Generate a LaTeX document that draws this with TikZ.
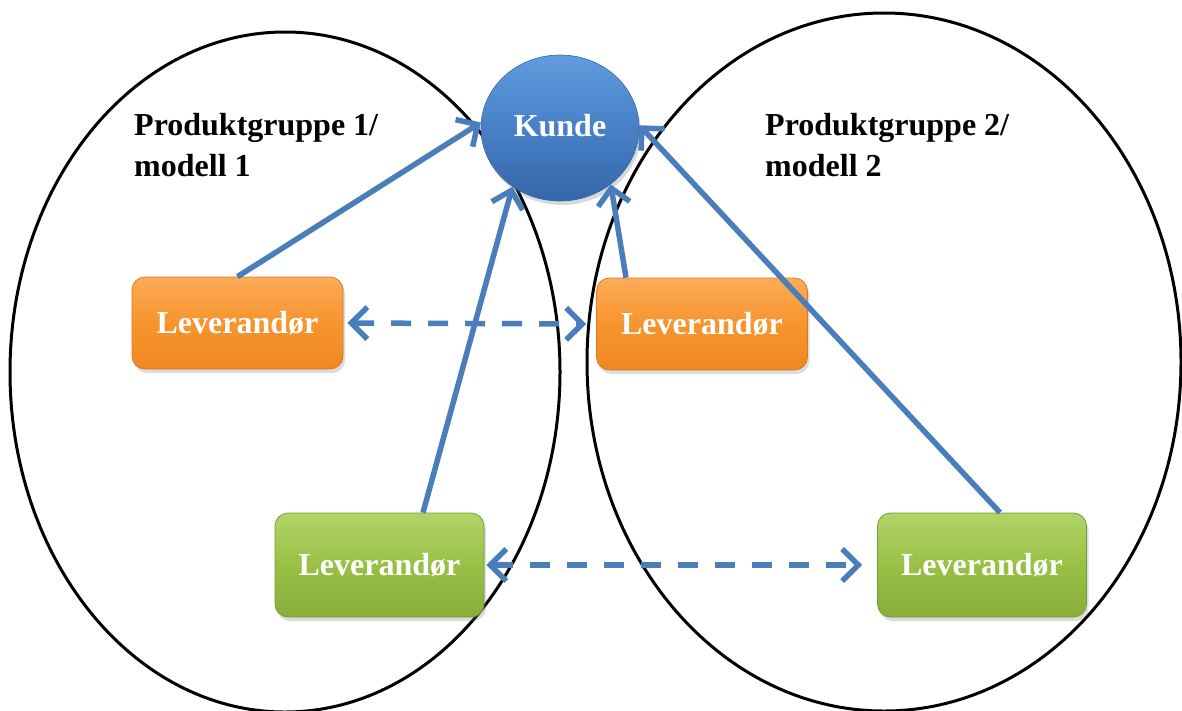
\documentclass[tikz,border=0pt]{standalone}
\usepackage{fontspec}
\setmainfont{Liberation Serif}
\usetikzlibrary{arrows.meta,shadows,calc,shapes.geometric}

\definecolor{linkblue}{RGB}{74,126,187}
\definecolor{orangetop}{RGB}{252,172,88}
\definecolor{orangemid}{RGB}{247,148,46}
\definecolor{orangebot}{RGB}{240,136,34}
\definecolor{orangeedge}{RGB}{214,120,40}
\definecolor{greentop}{RGB}{178,212,104}
\definecolor{greenmid}{RGB}{152,192,70}
\definecolor{greenbot}{RGB}{136,174,58}
\definecolor{greenedge}{RGB}{120,155,60}
\definecolor{bluetop}{RGB}{96,156,222}
\definecolor{bluemid}{RGB}{72,128,198}
\definecolor{bluebot}{RGB}{52,102,170}

\tikzset{
  group/.style={draw=black, line width=3pt},
  grouplabel/.style={anchor=north west, inner sep=0pt, align=left,
    font=\fontsize{32}{41}\selectfont\bfseries},
  supplier/.style={rounded corners=13pt, minimum width=211pt, minimum height=92pt,
    inner sep=0pt, text=white, font=\fontsize{32}{38}\selectfont\bfseries,
    drop shadow={opacity=0.28, shadow xshift=2pt, shadow yshift=-4pt}},
  orangebox/.style={supplier, draw=orangeedge, line width=0.8pt,
    top color=orangetop, bottom color=orangebot, middle color=orangemid},
  greenbox/.style={supplier, minimum width=209pt, minimum height=104pt,
    draw=greenedge, line width=0.8pt,
    top color=greentop, bottom color=greenbot, middle color=greenmid},
  customer/.style={ellipse, minimum width=158pt, minimum height=146pt, inner sep=0pt,
    top color=bluetop, bottom color=bluebot, middle color=bluemid,
    draw=bluebot, line width=0.6pt, text=white,
    font=\fontsize{32}{38}\selectfont\bfseries,
    drop shadow={opacity=0.3, shadow xshift=2pt, shadow yshift=-4pt}},
  barb/.tip={Straight Barb[length=16pt, width=32pt, line width=5.5pt]},
  link/.style={draw=linkblue, line width=5.5pt, -barb},
  exchange/.style={link, dash pattern=on 20pt off 17pt, barb-barb}
}

\begin{document}
\begin{tikzpicture}[x=1pt, y=-1pt]
  \useasboundingbox (0,0) rectangle (1182,710);
  \clip (0,0) rectangle (1182,710);

  % the two product groups
  \draw[group] (285,372) ellipse [x radius=275, y radius=340];
  \draw[group] (884,362) ellipse [x radius=297, y radius=349];

  \node[grouplabel] (lab1) at (134,113) {Produktgruppe 1/\\modell 1};
  \node[grouplabel] (lab2) at (765,113) {Produktgruppe 2/\\modell 2};

  % customer and suppliers
  \node[customer] (kunde) at (560,128) {\raisebox{5pt}{Kunde}};
  \node[orangebox] (o1) at (237.5,323) {Leverandør};
  \node[orangebox] (o2) at (702,324) {Leverandør};
  \node[greenbox]  (g1) at (379.5,565) {\raisebox{-5pt}{Leverandør}};
  \node[greenbox]  (g2) at (982,565) {\raisebox{-5pt}{Leverandør}};

  % deliveries to the customer
  \draw[link] (o1.north) -- (kunde.176);
  \draw[link] ([xshift=43.5pt]g1.north) -- (kunde.231);
  \draw[link] ([xshift=-76pt]o2.north) -- (kunde.312);
  \draw[link] ([xshift=18pt]g2.north) -- (kunde.2);

  % cooperation between suppliers
  \draw[exchange, shorten <=4pt, shorten >=10pt] (o1.east) -- (o2.west);
  \draw[exchange, shorten <=2pt, shorten >=15pt] (g1.east) -- (g2.west);
\end{tikzpicture}
\end{document}
